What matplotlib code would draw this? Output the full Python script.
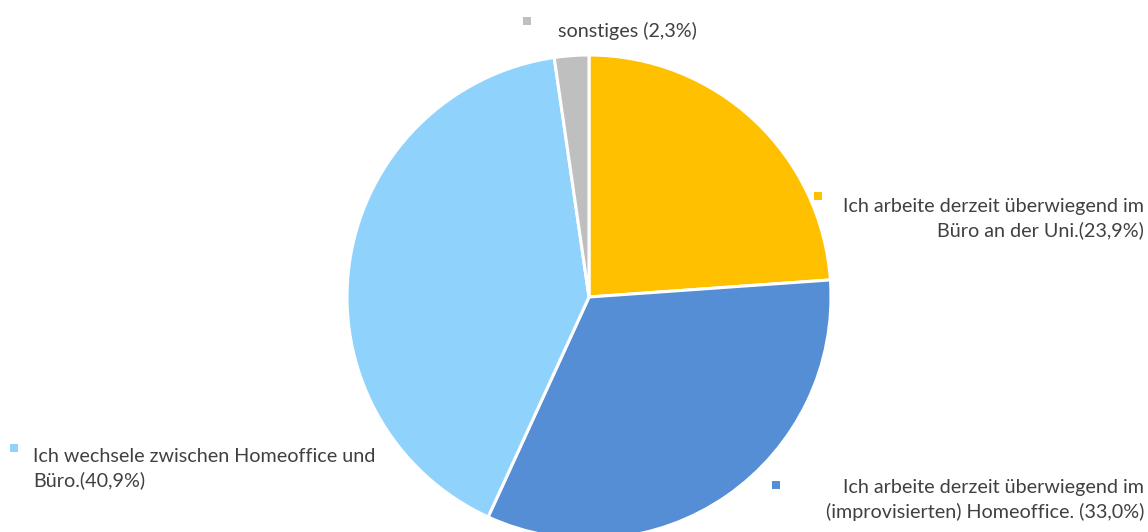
import matplotlib
matplotlib.use("Agg")
import matplotlib.pyplot as plt

# Daten
labels = ["Ich arbeite derzeit überwiegend im\nBüro an der Uni.(23,9%)",
          "Ich arbeite derzeit überwiegend im\n(improvisierten) Homeoffice. (33,0%)",
          "Ich wechsele zwischen Homeoffice und\nBüro.(40,9%)",
          "sonstiges (2,3%)"]
values = [23.9, 33.0, 40.9, 2.3]
colors = ["#FFC000", "#558ED5", "#8FD3FD", "#BFBFBF"]

W, H = 1148, 532
plt.rcParams['font.family'] = ['Lato', 'DejaVu Sans']

fig = plt.figure(figsize=(W / 100, H / 100), dpi=100)
ax = fig.add_axes([0, 0, 1, 1])

# Torte im Uhrzeigersinn ab 12 Uhr
ax.pie(values, colors=colors, startangle=90, counterclock=False,
       center=(589, H - 297), radius=242,
       wedgeprops=dict(edgecolor='white', linewidth=2.2))

# pie setzt die Grenzen selbst -> danach in Pixeln festlegen
ax.set_xlim(0, W)
ax.set_ylim(0, H)
ax.set_aspect('equal')
ax.axis('off')

# Beschriftungen: (Markerposition, Textposition, Ausrichtung)
label_pos = [((818, 196), (1144, 207), 'right'),
             ((776, 485), (1144, 488), 'right'),
             ((14, 448), (33, 457), 'left'),
             ((527, 21), (558, 31), 'left')]

txt_color = "#404040"
for lab, col, (mpos, tpos, ha) in zip(labels, colors, label_pos):
    ax.scatter([mpos[0]], [H - mpos[1]], marker='s', s=28, color=col,
               linewidths=0, clip_on=False)
    ax.text(tpos[0], H - tpos[1] + 9, lab, ha=ha, va='top', fontsize=14.2,
            color=txt_color, linespacing=1.45, multialignment=ha)

fig.savefig("out.png", dpi=100)
